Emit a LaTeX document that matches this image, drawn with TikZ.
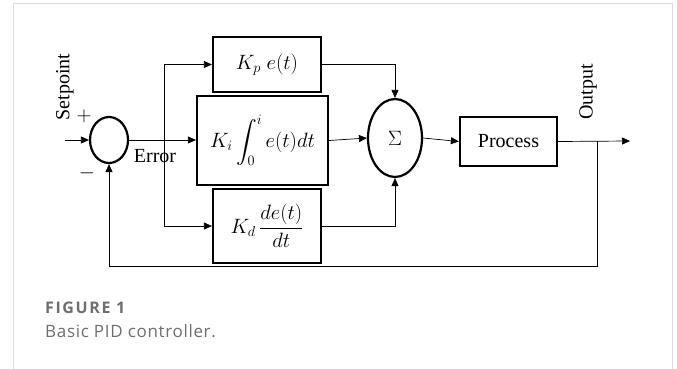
\documentclass[tikz,border=0pt]{standalone}
\usepackage{fontspec}
\usepackage{amsmath}
\setmainfont{Liberation Serif}
\newfontfamily\capfont[LetterSpace=4]{Open Sans}
\newfontfamily\capboldfont[LetterSpace=10]{Open Sans Bold}
\usetikzlibrary{arrows.meta, shapes.geometric}
\definecolor{framegray}{RGB}{220,220,220}
\definecolor{capgray}{RGB}{110,110,110}
\begin{document}
\begin{tikzpicture}[x=1pt, y=-1pt,
block/.style={rectangle, draw=black, line width=2.2pt, inner sep=0pt},
junction/.style={ellipse, draw=black, line width=2.2pt, inner sep=0pt},
signal/.style={draw=black, line width=0.7pt, -{Triangle[length=8pt, width=7pt]}},
wire/.style={draw=black, line width=0.7pt},
tag/.style={inner sep=0pt, font=\fontsize{20}{24}\selectfont},
caption/.style={inner sep=0pt, anchor=west, text=capgray, font=\capfont\fontsize{17}{20}\selectfont},
]
\useasboundingbox (0,0) rectangle (677,369);
\draw[framegray, line width=1pt] (13,369) -- (13,4) -- (672,4) -- (672,369);

\node[junction, minimum width=38pt, minimum height=46pt] (sum) at (109,140) {};
\node[block, minimum width=108pt, minimum height=55pt] (P) at (267,64.5) [tag] {$K_p\;e(t)$};
\node[block, minimum width=131pt, minimum height=89pt] (I) at (262.5,140.5) [tag] {$K_i\displaystyle\int_0^i e(t)dt$};
\node[block, minimum width=108pt, minimum height=74pt] (D) at (267,226) [tag] {$K_d\,\dfrac{de(t)}{dt}$};
\node[junction, minimum width=54pt, minimum height=78pt] (sigma) at (395,138) [tag] {$\Sigma$};
\node[block, minimum width=97pt, minimum height=49pt] (plant) at (508.5,141.5) [tag] {Process};

\coordinate (in) at (65,140);
\coordinate (split) at (164,140);
\coordinate (tap) at (597,141);
\coordinate (out) at (630,141);
\coordinate (fb) at (597,266);

\draw[signal] (in) -- (sum.west);
\draw[signal] (sum.east) -- (sum.east -| I.west);
\draw[wire] (split |- P.west) -- (split |- D.west);
\draw[signal] (split) |- (P.west);
\draw[signal] (split) |- (D.west);
\draw[signal] (P.east) -| (sigma.north);
\draw[signal] (D.east) -| (sigma.south);
\draw[signal] (I.east) -- (sigma.west);
\draw[signal] (sigma.east) -- (plant.west);
\draw[signal] (plant.east) -- (out);
\draw[signal] (tap) -- (fb) -| (sum.south);

\node[tag, rotate=90] (setpoint) at (65,87) {Setpoint};
\node[tag] (plus) at (84,116) {$+$};
\node[tag] (minus) at (87,173) {$-$};
\node[tag] (error) at (155,156) {Error};
\node[tag, rotate=90] (output) at (588,92) {Output};

\node[caption] (fig) at (45,308) {\capboldfont\fontsize{16}{19}\selectfont FIGURE 1};
\node[caption] (title) at (45,331) {Basic PID controller.};
\end{tikzpicture}
\end{document}
